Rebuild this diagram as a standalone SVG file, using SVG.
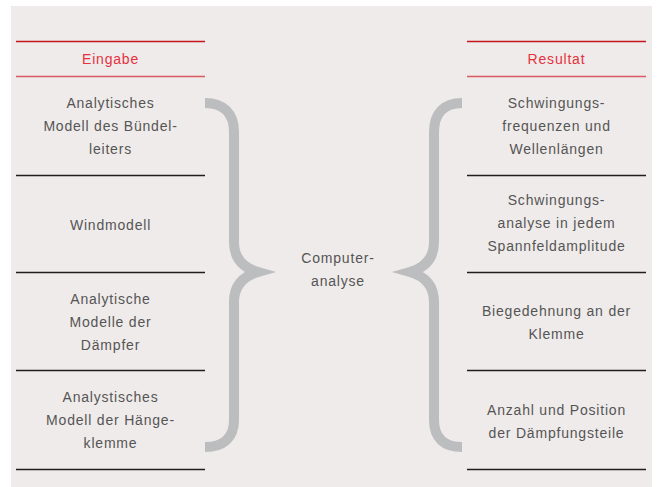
<svg xmlns="http://www.w3.org/2000/svg" width="657" height="487" viewBox="0 0 657 487">
<style>
.t{font-family:"Liberation Sans",Arial,sans-serif;font-size:14px;fill:#555555;text-anchor:middle;letter-spacing:0.8px}
.h{font-family:"Liberation Sans",Arial,sans-serif;font-size:14px;fill:#e4323f;text-anchor:middle;letter-spacing:0.8px}
.ln{stroke:#1e1e1e;stroke-width:1.3}
.br{fill:none;stroke:#bcbdbf;stroke-width:10}
</style>
<rect x="0" y="0" width="657" height="487" fill="#ffffff"/>
<rect x="11" y="6" width="641" height="481" fill="#efebea"/>
<g id="lines">
<line x1="16" y1="41.5" x2="205" y2="41.5" stroke="#c4161c" stroke-width="1.3"/>
<line x1="16" y1="76.5" x2="205" y2="76.5" stroke="#dc5a64" stroke-width="1.5"/>
<line class="ln" x1="16" y1="175.5" x2="205" y2="175.5"/>
<line class="ln" x1="16" y1="272.5" x2="205" y2="272.5"/>
<line class="ln" x1="16" y1="370.5" x2="205" y2="370.5"/>
<line class="ln" x1="16" y1="469.5" x2="205" y2="469.5"/>
<line x1="467" y1="41.5" x2="646" y2="41.5" stroke="#c4161c" stroke-width="1.3"/>
<line x1="467" y1="76.5" x2="646" y2="76.5" stroke="#dc5a64" stroke-width="1.5"/>
<line class="ln" x1="467" y1="175.5" x2="646" y2="175.5"/>
<line class="ln" x1="467" y1="272.5" x2="646" y2="272.5"/>
<line class="ln" x1="467" y1="370.5" x2="646" y2="370.5"/>
<line class="ln" x1="467" y1="469.5" x2="646" y2="469.5"/>
</g>
<g id="connectors">
<path class="br" d="M205,103 C223,103 234,113 234,132 L234,242 C234,259 244,268 258,272 C244,276 234,285 234,302 L234,420 C234,438 223,447 205,447"/>
<path class="br" d="M462,103 C444,103 434,113 434,132 L434,242 C434,259 424,268 410,272 C424,276 434,285 434,302 L434,420 C434,438 444,447 462,447"/>
</g>
<g id="eingabe"><text class="h" x="110.5" y="64">Eingabe</text></g>
<g id="resultat"><text class="h" x="556.5" y="64">Resultat</text></g>
<g id="in1"><text class="t" x="110.5" y="108">Analytisches</text><text class="t" x="110.5" y="131">Modell des Bündel-</text><text class="t" x="110.5" y="154">leiters</text></g>
<g id="in2"><text class="t" x="110.5" y="230">Windmodell</text></g>
<g id="in3"><text class="t" x="110.5" y="304">Analytische</text><text class="t" x="110.5" y="327">Modelle der</text><text class="t" x="110.5" y="350">Dämpfer</text></g>
<g id="in4"><text class="t" x="110.5" y="402">Analystisches</text><text class="t" x="110.5" y="425">Modell der Hänge-</text><text class="t" x="110.5" y="448">klemme</text></g>
<g id="center"><text class="t" x="338" y="263">Computer-</text><text class="t" x="338" y="286">analyse</text></g>
<g id="out1"><text class="t" x="556.5" y="108">Schwingungs-</text><text class="t" x="556.5" y="131">frequenzen und</text><text class="t" x="556.5" y="154">Wellenlängen</text></g>
<g id="out2"><text class="t" x="556.5" y="205">Schwingungs-</text><text class="t" x="556.5" y="228">analyse in jedem</text><text class="t" x="556.5" y="251">Spannfeldamplitude</text></g>
<g id="out3"><text class="t" x="556.5" y="316">Biegedehnung an der</text><text class="t" x="556.5" y="339">Klemme</text></g>
<g id="out4"><text class="t" x="556.5" y="415">Anzahl und Position</text><text class="t" x="556.5" y="438">der Dämpfungsteile</text></g>
</svg>
